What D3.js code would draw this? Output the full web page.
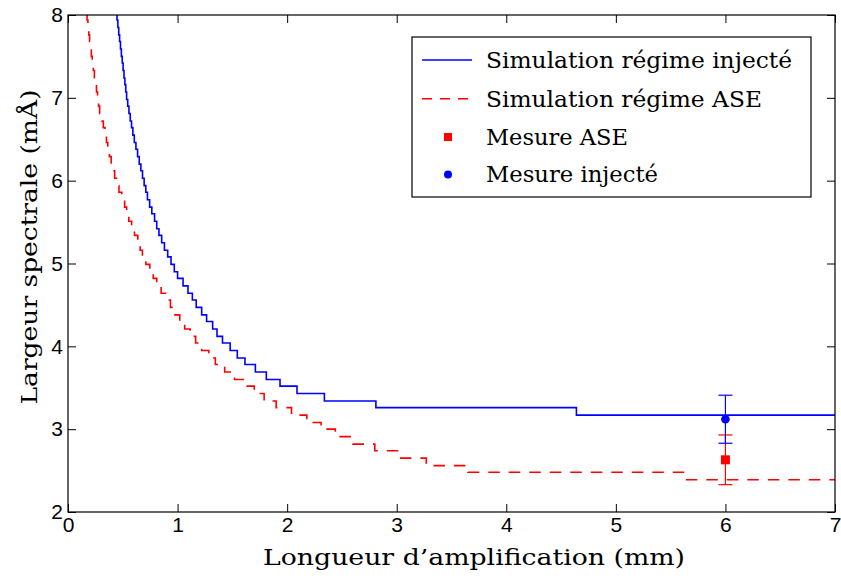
<!DOCTYPE html>
<html>
<head>
<meta charset="utf-8">
<script src="https://cdn.jsdelivr.net/npm/d3@7"></script>
<style>
  html, body { margin: 0; padding: 0; background: #fff; }
  svg { display: block; }
  .serif { font-family: "DejaVu Serif", "Liberation Serif", serif; font-weight: normal; }
  .sans { font-family: "Liberation Sans", Arial, sans-serif; }
</style>
</head>
<body>
<svg id="chart" width="841" height="579"></svg>
<script>
// ---- data ----
// Injected-regime simulation: x where each plateau starts, plateau level (mÅ)
const blueX = [0.440,0.447,0.455,0.463,0.471,0.479,0.487,0.495,0.503,0.511,0.519,0.527,0.535,0.545,0.556,0.568,0.580,0.592,0.605,0.620,0.635,0.650,0.665,0.680,0.695,0.710,0.725,0.745,0.765,0.790,0.810,0.830,0.855,0.880,0.910,0.940,0.970,1.000,1.050,1.095,1.135,1.170,1.220,1.265,1.320,1.360,1.410,1.480,1.545,1.615,1.710,1.810,1.935,2.090,2.340,2.810,4.640,7.000];
const blueY = [8.02,7.94,7.85,7.76,7.68,7.59,7.50,7.42,7.33,7.24,7.16,7.07,6.98,6.90,6.81,6.72,6.64,6.55,6.46,6.38,6.29,6.20,6.12,6.03,5.94,5.86,5.77,5.68,5.60,5.51,5.42,5.34,5.25,5.16,5.08,4.99,4.90,4.82,4.73,4.64,4.56,4.47,4.38,4.30,4.21,4.12,4.04,3.95,3.86,3.78,3.69,3.60,3.52,3.43,3.34,3.26,3.17,3.17];
// ASE-regime simulation
const redX = [0.166,0.174,0.182,0.190,0.197,0.205,0.213,0.221,0.231,0.241,0.250,0.260,0.270,0.279,0.289,0.306,0.322,0.338,0.351,0.363,0.378,0.394,0.409,0.426,0.443,0.465,0.491,0.517,0.535,0.555,0.581,0.607,0.637,0.659,0.679,0.711,0.747,0.778,0.810,0.850,0.890,0.935,0.975,1.020,1.065,1.115,1.165,1.220,1.285,1.345,1.430,1.520,1.620,1.700,1.790,1.900,2.040,2.180,2.310,2.440,2.600,2.800,3.020,3.270,3.650,5.630,7.000];
const redY = [8.02,7.94,7.85,7.76,7.68,7.59,7.50,7.42,7.33,7.24,7.16,7.07,6.98,6.90,6.81,6.72,6.64,6.55,6.46,6.38,6.29,6.20,6.12,6.03,5.94,5.86,5.77,5.68,5.60,5.51,5.42,5.34,5.25,5.16,5.08,4.99,4.90,4.82,4.73,4.64,4.56,4.47,4.38,4.30,4.21,4.12,4.04,3.95,3.86,3.78,3.69,3.60,3.52,3.43,3.34,3.26,3.17,3.08,3.00,2.91,2.82,2.74,2.65,2.56,2.48,2.39,2.39];
// Measurements (x, value, error)
const measAseX = [6], measAseY = [2.63], measAseErr = [0.30];
const measInjX = [6], measInjY = [3.12], measInjErr = [0.29];
// Axes
const xTicks = [0,1,2,3,4,5,6,7];
const yTicks = [2,3,4,5,6,7,8];
const xLabel = "Longueur d\u2019amplification (mm)";
const yLabel = "Largeur spectrale (m\u00C5)";
const legendLabels = ["Simulation r\u00E9gime inject\u00E9","Simulation r\u00E9gime ASE","Mesure ASE","Mesure inject\u00E9"];
const legendWidths = [306, 276, 142, 172];

// ---- layout ----
const L = 68, R = 835, T = 15, B = 512;
const svg = d3.select("#chart");
const x = d3.scaleLinear().domain([0,7]).range([L,R]);
const y = d3.scaleLinear().domain([2,8]).range([B,T]);
const BLUE = "#0000ff", RED = "#ff0000";

svg.append("defs").append("clipPath").attr("id","plotclip")
  .append("rect").attr("x",L).attr("y",T).attr("width",R-L).attr("height",B-T);

// axes with inward ticks
function styleAxis(g){
  g.attr("font-family", null).attr("font-size", null);
  g.select(".domain").remove();
  g.selectAll("line").attr("stroke","#000").attr("stroke-width",1);
  g.selectAll("text").attr("class","sans").attr("font-size",21).attr("fill","#000");
}
svg.append("g").attr("transform",`translate(0,${B})`)
  .call(d3.axisBottom(x).tickValues(xTicks).tickFormat(d3.format("d")).tickSizeInner(-8).tickSizeOuter(0).tickPadding(5))
  .call(styleAxis);
svg.append("g").attr("transform",`translate(0,${T})`)
  .call(d3.axisTop(x).tickValues(xTicks).tickFormat("").tickSizeInner(-8).tickSizeOuter(0))
  .call(styleAxis);
svg.append("g").attr("transform",`translate(${L},0)`)
  .call(d3.axisLeft(y).tickValues(yTicks).tickFormat(d3.format("d")).tickSizeInner(-8).tickSizeOuter(0).tickPadding(5))
  .call(styleAxis);
svg.append("g").attr("transform",`translate(${R},0)`)
  .call(d3.axisRight(y).tickValues(yTicks).tickFormat("").tickSizeInner(-8).tickSizeOuter(0))
  .call(styleAxis);

// curves
const plot = svg.append("g").attr("clip-path","url(#plotclip)");
const line = d3.line().x(d=>x(d[0])).y(d=>y(d[1])).curve(d3.curveStepAfter);
plot.append("path").datum(blueX.map((v,i)=>[v,blueY[i]]))
  .attr("d",line).attr("fill","none").attr("stroke",BLUE).attr("stroke-width",1.6);
plot.append("path").datum(redX.map((v,i)=>[v,redY[i]]))
  .attr("d",line).attr("fill","none").attr("stroke",RED).attr("stroke-width",1.6)
  .attr("stroke-dasharray","11.5,9");

// error bars
function errorBar(xs, ys, es, color){
  xs.forEach((xv,i)=>{
    const g = plot.append("g").attr("stroke",color).attr("stroke-width",1.2);
    const cx = x(xv), y1 = y(ys[i]+es[i]), y2 = y(ys[i]-es[i]);
    g.append("line").attr("x1",cx).attr("x2",cx).attr("y1",y1).attr("y2",y2);
    g.append("line").attr("x1",cx-7).attr("x2",cx+7).attr("y1",y1).attr("y2",y1);
    g.append("line").attr("x1",cx-7).attr("x2",cx+7).attr("y1",y2).attr("y2",y2);
  });
}
errorBar(measAseX, measAseY, measAseErr, RED);
errorBar(measInjX, measInjY, measInjErr, BLUE);
measAseX.forEach((xv,i)=>{
  plot.append("rect").attr("x",x(xv)-4.5).attr("y",y(measAseY[i])-4.5)
    .attr("width",9).attr("height",9).attr("fill",RED);
});
measInjX.forEach((xv,i)=>{
  plot.append("circle").attr("cx",x(xv)).attr("cy",y(measInjY[i])).attr("r",4.3).attr("fill",BLUE);
});

// frame
svg.append("rect").attr("x",L).attr("y",T).attr("width",R-L).attr("height",B-T)
  .attr("fill","none").attr("stroke","#000").attr("stroke-width",1.2);

// axis labels
svg.append("text").attr("class","serif").attr("x",(263+685)/2).attr("y",565).attr("text-anchor","middle")
  .attr("font-size",23).attr("fill","#000")
  .attr("textLength",422).attr("lengthAdjust","spacingAndGlyphs").text(xLabel);
svg.append("text").attr("class","serif").attr("transform","translate(37,247) rotate(-90)").attr("text-anchor","middle")
  .attr("font-size",23).attr("fill","#000")
  .attr("textLength",315).attr("lengthAdjust","spacingAndGlyphs").text(yLabel);

// legend
const lg = svg.append("g");
lg.append("rect").attr("x",412).attr("y",37).attr("width",399).attr("height",160)
  .attr("fill","#fff").attr("stroke","#000").attr("stroke-width",1.2);
const baselines = [67.7,106.7,145,182.3];
const mids = [60,98.7,137,174.5];
legendLabels.forEach((t,i)=>{
  lg.append("text").attr("class","serif").attr("x",486).attr("y",baselines[i])
    .attr("font-size",22).attr("fill","#000")
    .attr("textLength",legendWidths[i]).attr("lengthAdjust","spacingAndGlyphs").text(t);
});
lg.append("line").attr("x1",422).attr("x2",472).attr("y1",mids[0]).attr("y2",mids[0])
  .attr("stroke",BLUE).attr("stroke-width",1.6);
lg.append("line").attr("x1",422).attr("x2",472).attr("y1",mids[1]).attr("y2",mids[1])
  .attr("stroke",RED).attr("stroke-width",1.6).attr("stroke-dasharray","10,8");
lg.append("rect").attr("x",448-4).attr("y",mids[2]-4).attr("width",8).attr("height",8).attr("fill",RED);
lg.append("circle").attr("cx",448).attr("cy",mids[3]).attr("r",4).attr("fill",BLUE);
</script>
</body>
</html>
